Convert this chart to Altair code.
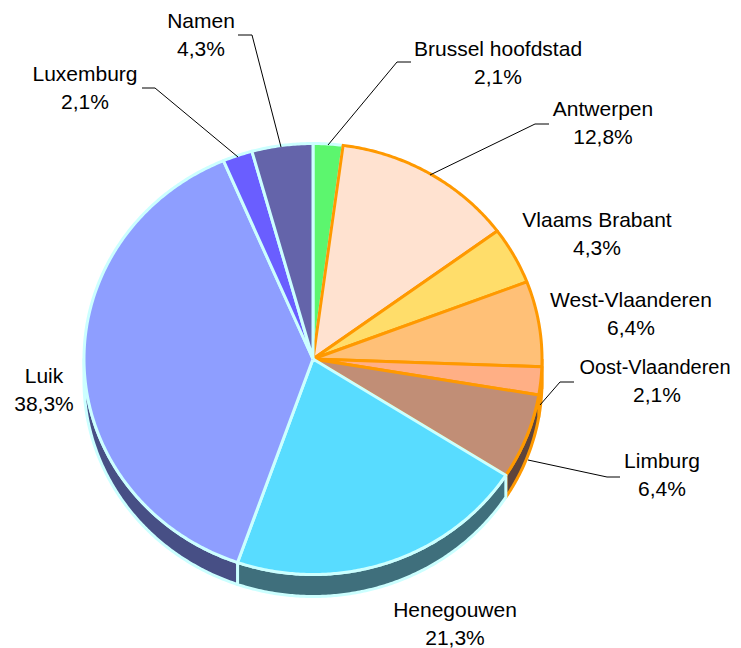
import math
import altair as alt
import pandas as pd

# ---- data
names = ["Brussel hoofdstad", "Antwerpen", "Vlaams Brabant", "West-Vlaanderen", "Oost-Vlaanderen",
         "Limburg", "Henegouwen", "Luik", "Luxemburg", "Namen"]
shares = [2.1, 12.8, 4.3, 6.4, 2.1, 6.4, 21.3, 38.3, 2.1, 4.3]

# ---- styles
top_fill = ["#5cf66e", "#ffe2d0", "#ffdd6a", "#ffc077", "#ffaf85", "#c18e76",
            "#58dcff", "#8e9eff", "#6a5eff", "#6464aa"]
wall_fill = ["#2e7a37", "#80716a", "#806e35", "#80603c", "#805742", "#5e443c",
             "#3f6f7c", "#474f85", "#352f80", "#323255"]
edge = ["#ccffff", "#ff9900", "#ff9900", "#ff9900", "#ff9900", "#ff9900",
        "#ccffff", "#ccffff", "#ccffff", "#ccffff"]

# ---- layout (image pixels)
CX, CY, RX, RY, DEPTH = 313, 359, 229, 215.5, 22
label_pos = {"Brussel hoofdstad": (498, 50), "Antwerpen": (603, 110), "Vlaams Brabant": (597, 221),
             "West-Vlaanderen": (631, 301), "Oost-Vlaanderen": (657, 368), "Limburg": (662, 462),
             "Henegouwen": (455, 611), "Luik": (44, 377), "Luxemburg": (85, 75), "Namen": (201, 22)}
LINE_GAP = 28
FONT_SIZE = 21
TIGHT_NAME = "Oost-Vlaanderen"   # runs to the page edge, so its name is set a little smaller
TIGHT_SIZE = 20
TIGHT_X = 655
leaders = [[(411, 62), (397, 62), (328, 145)],
           [(549, 124), (535, 124), (430, 175)],
           [(574, 382), (560, 382), (540, 405)],
           [(620, 477), (607, 477), (528, 460)],
           [(142, 88), (155, 88), (238, 157)],
           [(238, 35), (252, 35), (281, 147)]]

W, H = 725, 640
X = alt.X("x:Q", axis=None, scale=alt.Scale(domain=[8, 8 + W], range=[0, W]))
Y = alt.Y("y:Q", axis=None, scale=alt.Scale(domain=[8, 8 + H], range=[0, H]))


def pt(deg, drop=0.0):
    a = math.radians(deg)
    return CX + RX * math.sin(a), CY - RY * math.cos(a) + drop


def arc(a0, a1):
    n = max(2, int(abs(a1 - a0)) * 2 + 2)
    return [a0 + (a1 - a0) * k / (n - 1) for k in range(n)]


def shape(points, fill, stroke, width):
    df = pd.DataFrame({"x": [p[0] for p in points], "y": [p[1] for p in points],
                       "i": list(range(len(points)))})
    return alt.Chart(df).mark_line(filled=True, fill=fill, stroke=stroke, strokeWidth=width,
                                   strokeJoin="round", clip=False).encode(x=X, y=Y, order=alt.Order("i:Q"))


total = sum(shares)
starts, cum = [], 0.0
for s in shares:
    starts.append((cum / total * 360, (cum + s) / total * 360))
    cum += s

layers = []
# side walls (lower half only)
for (a0, a1), wf, e in zip(starts, wall_fill, edge):
    lo, hi = max(a0, 90), min(a1, 270)
    if lo < hi:
        ang = arc(lo, hi)
        poly = [pt(a) for a in ang] + [pt(a, DEPTH) for a in reversed(ang)]
        poly.append(poly[0])
        layers.append(shape(poly, wf, e, 3))
# top face
for (a0, a1), tf, e in zip(starts, top_fill, edge):
    poly = [(CX, CY)] + [pt(a) for a in arc(a0, a1)] + [(CX, CY)]
    layers.append(shape(poly, tf, e, 3))
# leader lines
for k, seg in enumerate(leaders):
    df = pd.DataFrame({"x": [p[0] for p in seg], "y": [p[1] for p in seg], "i": [0, 1, 2]})
    layers.append(alt.Chart(df).mark_line(color="black", strokeWidth=1).encode(x=X, y=Y, order=alt.Order("i:Q")))
# labels
rows = []
for n, s in zip(names, shares):
    lx, ly = label_pos[n]
    tight = n == TIGHT_NAME
    rows.append({"x": TIGHT_X if tight else lx, "y": ly, "t": n, "fs": TIGHT_SIZE if tight else FONT_SIZE})
    rows.append({"x": lx, "y": ly + LINE_GAP, "t": f"{s:.1f}%".replace(".", ","), "fs": FONT_SIZE})
layers.append(alt.Chart(pd.DataFrame(rows)).mark_text(font="Liberation Sans", color="black",
                                                       align="center", baseline="middle")
              .encode(x=X, y=Y, text="t:N", size=alt.Size("fs:Q", scale=None, legend=None)))

chart = alt.layer(*layers).properties(width=W, height=H, padding=0, autosize="none",
                                      background="white").configure_view(stroke=None)
chart.save("out.html", embed_options={"renderer": "svg", "actions": False})
